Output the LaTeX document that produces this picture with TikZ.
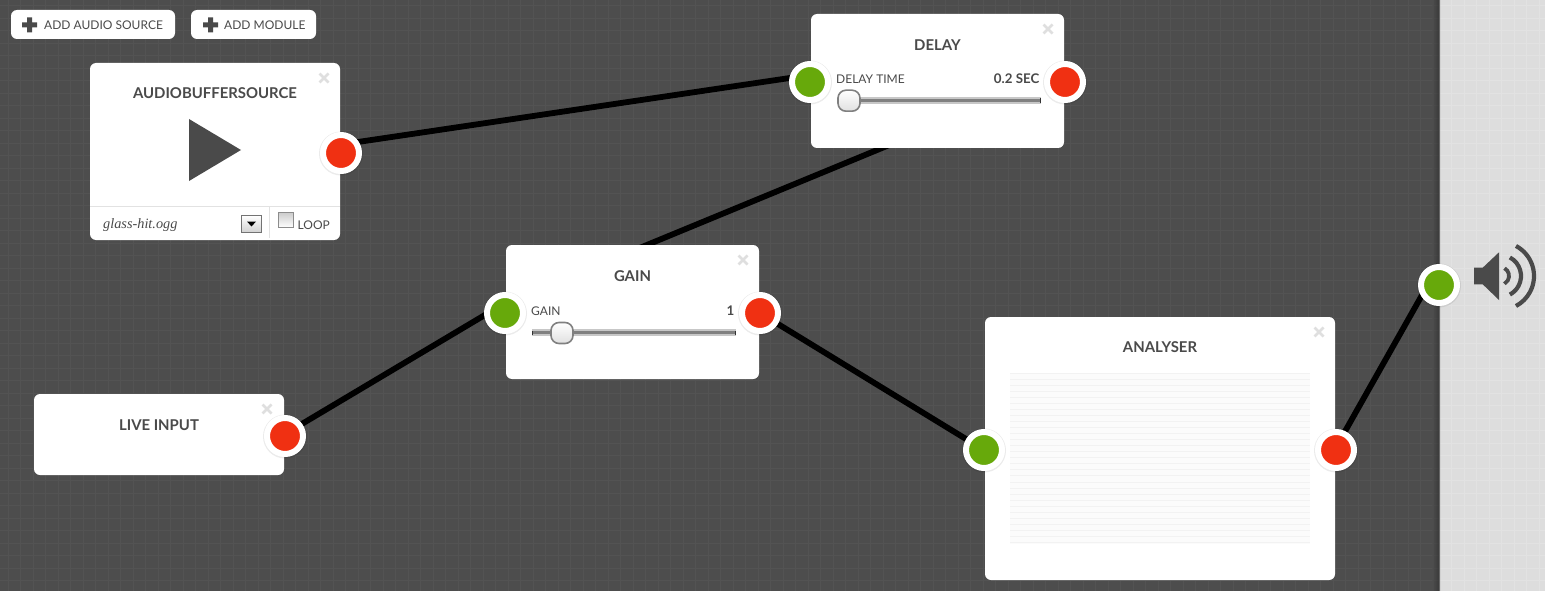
\documentclass[tikz,border=0pt]{standalone}
\usepackage{fontspec}
\setmainfont{Lato}
\newfontfamily\fileface{Liberation Serif}
\usetikzlibrary{calc}
\definecolor{ink}{HTML}{4A4A4A}
\definecolor{canvasbg}{HTML}{4D4D4D}
\definecolor{canvasgrid}{HTML}{535353}
\definecolor{panelbg}{HTML}{DDDDDD}
\definecolor{panelgrid}{HTML}{E2E2E2}
\definecolor{outred}{HTML}{F03012}
\definecolor{ingreen}{HTML}{67A90B}
\definecolor{closegrey}{HTML}{DFDFDF}
\definecolor{rule}{HTML}{E2E2E2}
\pgfdeclarelayer{ground}
\pgfdeclarelayer{wires}
\pgfsetlayers{ground,wires,main}
\tikzset{
  x=1pt,y=-1pt,
  card/.style={draw=none,fill=white,rounded corners=6pt,inner sep=0pt,outer sep=0pt},
  title/.style={font=\fontsize{14.9}{17}\selectfont\bfseries,text=ink,inner sep=0pt},
  label/.style={font=\fontsize{12}{14}\selectfont,text=ink,inner sep=0pt},
  valuetext/.style={font=\fontsize{13.3}{14}\selectfont\bfseries,text=ink,inner sep=0pt},
  port/.style={circle,draw=white,line width=6pt,minimum size=36pt,inner sep=0pt,outer sep=0pt},
  inport/.style={port,fill=ingreen},
  outport/.style={port,fill=outred},
  wire/.style={line width=5.8pt,black},
  closemark/.style={closegrey,line width=2.8pt},
  thumb/.style={draw=black!50,line width=1.6pt,rounded corners=8pt,inner sep=0pt,minimum width=22pt,minimum height=21pt,top color=white,bottom color=black!12},
}
\newcommand{\closeat}[2]{\draw[closemark] (#1-4.5,#2-4.5) -- (#1+4.5,#2+4.5) (#1-4.5,#2+4.5) -- (#1+4.5,#2-4.5);}
\newcommand{\portshadow}[2]{\fill[black,opacity=.08] (#1,#2+.5) circle[radius=22pt];}
\newcommand{\slidertrack}[3]{%
  \fill[black!22] (#1,#3) rectangle (#2,#3+7);
  \fill[black!50] (#1,#3+1.4) rectangle (#2,#3+5);
  \fill[black!80] (#1,#3+1.2) rectangle (#1+1,#3+5.5);
  \fill[black!80] (#2-1,#3+1.2) rectangle (#2,#3+5.5);}
\newcommand{\plusat}[2]{\fill[ink] (#1-7.5,#2-2.5) rectangle (#1+7.5,#2+2.5) (#1-2.5,#2-7.5) rectangle (#1+2.5,#2+7.5);}
\begin{document}
\begin{tikzpicture}
\useasboundingbox (0,0) rectangle (1545,591);
\begin{pgfonlayer}{ground}
  \fill[canvasbg] (0,0) rectangle (1440,591);
  \fill[panelbg] (1440,0) rectangle (1545,591);
  \foreach \k in {0,...,114} {
    \draw[canvasgrid,line width=.9pt] ({8.3+12.5*\k},0) -- ({8.3+12.5*\k},591);
  }
  \foreach \k in {0,...,47} {
    \draw[canvasgrid,line width=.9pt] (0,{5.7+12.5*\k}) -- (1440,{5.7+12.5*\k});
    \draw[panelgrid,line width=1.2pt] (1440,{5.7+12.5*\k}) -- (1545,{5.7+12.5*\k});
  }
  \foreach \k in {0,...,8} {
    \draw[panelgrid,line width=1.2pt] ({1451.8+12.5*\k},0) -- ({1451.8+12.5*\k},591);
  }
  \shade[left color=canvasbg,right color=black!85,opacity=.55] (1432,0) rectangle (1440,591);
  \fill[black!60] (1439.3,0) rectangle (1440.3,591);
\end{pgfonlayer}

% toolbar
\node[card,minimum width=164pt,minimum height=29pt] (addSource) at (93,24.5) {};
\node[card,minimum width=125pt,minimum height=29pt] (addModule) at (253.5,24.5) {};
\plusat{29.5}{25}
\plusat{210.5}{25}
\node[label,anchor=west] (addSourceText) at (44,25.5) {ADD AUDIO SOURCE};
\node[label,anchor=west] (addModuleText) at (224,25.5) {ADD MODULE};

% cards
\node[card,minimum width=250pt,minimum height=177pt] (audioCard) at (215,151.5) {};
\node[card,minimum width=253pt,minimum height=134pt] (delayCard) at (937.5,81) {};
\node[card,minimum width=253pt,minimum height=134pt] (gainCard) at (632.5,312) {};
\node[card,minimum width=250pt,minimum height=81pt] (liveCard) at (159,434.5) {};
\node[card,minimum width=350pt,minimum height=263pt] (analyserCard) at (1160,448.5) {};

% titles
\node[title] (audioTitle) at (215,93) {AUDIOBUFFERSOURCE};
\node[title] (delayTitle) at (937.5,45) {DELAY};
\node[title] (gainTitle) at (632.5,276) {GAIN};
\node[title] (liveTitle) at (159,425) {LIVE INPUT};
\node[title] (analyserTitle) at (1160,347) {ANALYSER};

% close marks
\closeat{324}{78}
\closeat{1048}{29}
\closeat{743}{260}
\closeat{267}{409}
\closeat{1319}{332}

% audio source details
\fill[ink] (189,119) -- (241,150) -- (189,181) -- cycle;
\draw[rule,line width=.9pt] (90,206) -- (340,206) (269.5,206) -- (269.5,238);
\node[font=\fileface\itshape\fontsize{14.3}{16}\selectfont,text=ink,inner sep=0pt,anchor=west] (fileName) at (103,225) {glass-hit.ogg};
\draw[black!55,line width=1pt,top color=white,bottom color=black!18] (241.5,215.5) rectangle (261.5,232.5);
\fill[black] (247,221.5) -- (256,221.5) -- (251.5,226.5) -- cycle;
\draw[black!45,line width=1pt,top color=black!20,bottom color=white] (278.5,212.5) rectangle (293.5,227.5);
\node[label,anchor=west] (loopText) at (297.5,225) {LOOP};

% delay details
\node[label,anchor=west] (delayLabel) at (836,79) {DELAY TIME};
\node[valuetext,anchor=east] (delayValue) at (1039.5,79) {0.2 SEC};
\slidertrack{836.5}{1041}{97.3}
\node[thumb] (delayThumb) at (849,100.7) {};

% gain details
\node[label,anchor=west] (gainLabel) at (531,311) {GAIN};
\node[valuetext,anchor=east] (gainValue) at (734.5,311) {1};
\slidertrack{531.5}{736}{329.3}
\node[thumb] (gainThumb) at (562,333) {};

% analyser trace
\fill[black!1.5] (1010,373) rectangle (1310,544);
\foreach \k in {0,...,28} {
  \draw[black!5,line width=1pt] (1010,{373.3+6.04*\k}) -- (1310,{373.3+6.04*\k});
}

% speaker icon
\fill[ink] (1474,267.7) -- (1482.7,267.7) -- (1499,252.3) -- (1499,300) -- (1482.7,284.3) -- (1474,284.3) -- cycle;
\coordinate (speakerHub) at (1500,276);
\draw[ink,line width=3.8pt] (speakerHub) ++(60:9pt) arc[start angle=60,end angle=-60,radius=9pt];
\draw[ink,line width=4.2pt] (speakerHub) ++(62:21pt) arc[start angle=62,end angle=-62,radius=21pt];
\draw[ink,line width=4.2pt] (speakerHub) ++(62:34pt) arc[start angle=62,end angle=-62,radius=34pt];

% port shadows
\portshadow{341}{153}
\portshadow{810}{82}
\portshadow{1065}{82}
\portshadow{505}{313}
\portshadow{760}{313}
\portshadow{285}{436}
\portshadow{984}{450}
\portshadow{1336}{450}
\portshadow{1439}{285}

% ports
\node[outport] (audioOut) at (341,153) {};
\node[inport] (delayIn) at (810,82) {};
\node[outport] (delayOut) at (1065,82) {};
\node[inport] (gainIn) at (505,313) {};
\node[outport] (gainOut) at (760,313) {};
\node[outport] (liveOut) at (285,436) {};
\node[inport] (analyserIn) at (984,450) {};
\node[outport] (analyserOut) at (1336,450) {};
\node[inport] (speakerIn) at (1439,285) {};

% connectors
\begin{pgfonlayer}{wires}
  \draw[wire] ([yshift=8.5pt]audioOut.center) -- ([yshift=7pt]delayIn.center);
  \draw[wire] ([yshift=9.5pt]gainIn.center) -- ([yshift=9.5pt]delayOut.center);
  \draw[wire] ([yshift=2pt]liveOut.center) -- ([yshift=10pt]gainIn.center);
  \draw[wire] (gainOut.center) -- (analyserIn.center);
  \draw[wire] ([yshift=2.7pt]analyserOut.center) -- ([yshift=20pt]speakerIn.center);
\end{pgfonlayer}
\end{tikzpicture}
\end{document}
